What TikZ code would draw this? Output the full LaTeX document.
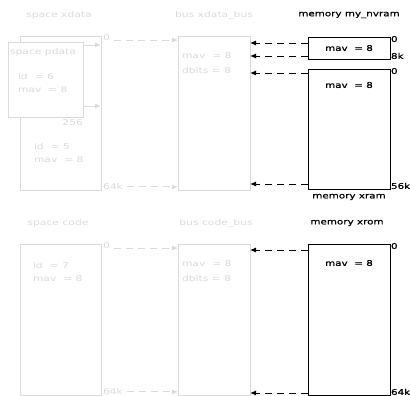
\documentclass[tikz,border=0pt]{standalone}
\usepackage{fontspec}
\setmainfont[FakeStretch=1.35]{DejaVu Sans}
\newfontfamily\heavyfont[FakeStretch=1.3,FakeBold=0.7]{DejaVu Sans}
\usetikzlibrary{arrows,arrows.meta}
\definecolor{faint}{RGB}{218,218,218}

\begin{document}
\begin{tikzpicture}[x=1bp,y=-1bp,>={Latex[length=6bp,width=5bp]},font=\fontsize{8}{12.5}\selectfont,
  every node/.style={inner sep=0pt,outer sep=0pt},
  sbox/.style={draw=faint,line width=1bp,anchor=north west,fill=white},
  mbox/.style={draw=black,line width=1bp,anchor=north west},
  stext/.style={text=faint,align=left},
  mtext/.style={text=black,font=\fontsize{8}{12}\heavyfont},
  sarrow/.style={->,draw=faint,line width=1bp,dash pattern=on 7bp off 5bp},
  marrow/.style={->,draw=black,line width=1bp,dash pattern=on 7bp off 5bp}]
  \useasboundingbox (0,0) rectangle (410,396);
  % upper half
  \node[sbox,minimum width=81bp,minimum height=154bp] (xdata) at (20,36) {};
  \node[sbox,minimum width=75bp,minimum height=75bp] (pdata) at (8,42) {};
  \node[sbox,minimum width=72bp,minimum height=154bp] (xdatabus) at (178,36) {};
  \node[mbox,minimum width=82bp,minimum height=22bp] (nvram) at (308,37) {};
  \node[mbox,minimum width=82bp,minimum height=120bp] (xram) at (308,69) {};
  \node[stext] (xdatat) at (59,15) {space xdata};
  \node[stext] (xdatabust) at (214,15) {bus xdata\_bus};
  \node[mtext] (nvramt) at (349,15) {memory my\_nvram};
  \node[mtext] (xramt) at (349,197) {memory xram};
  \node[stext,anchor=west] (pdatat) at (10,52) {space pdata};
  \node[stext,anchor=west] (pdatap) at (18,83) {id \ = 6\\mav \ = 8};
  \node[stext,anchor=north east] (p256) at (pdata.south east |- 0,120) {256};
  \node[stext,anchor=west] (xdatap) at (34,153) {id \ = 5\\mav \ = 8};
  \node[stext,anchor=west] (xdatabusp) at (182,63) {mav \ = 8\\[3bp]dbits = 8};
  \node[mtext] (nvramp) at (349,48) {mav \ = 8};
  \node[mtext] (xramp) at (349,85) {mav \ = 8};
  \node[mtext,anchor=north west] (n0) at ([xshift=1bp,yshift=1bp]nvram.north east) {0};
  \node[mtext,anchor=south west] (n8) at ([xshift=1bp]nvram.south east) {8k};
  \node[mtext,anchor=north west] (r0) at ([xshift=1bp,yshift=1bp]xram.north east) {0};
  \node[mtext,anchor=south west] (r56) at ([xshift=1bp]xram.south east) {56k};
  \node[stext,anchor=north west] (x0) at ([xshift=2bp,yshift=1bp]xdata.north east) {0};
  \node[stext,anchor=south west] (x64) at ([xshift=2bp]xdata.south east) {64k};
  \draw[->,draw=faint,line width=1bp] ([yshift=-3bp]pdata.north east) -- ([yshift=-3bp]pdata.north east -| xdata.east);
  \draw[->,draw=faint,line width=1bp] ([yshift=11bp]pdata.south east) -- ([yshift=11bp]pdata.south east -| xdata.east);
  \draw[sarrow] ([xshift=4bp,yshift=-2bp]x0.east) -- ([yshift=-2bp]x0.east -| xdatabus.west);
  \draw[sarrow] ([xshift=4bp]x64.east) -- (x64.east -| xdatabus.west);
  \coordinate (na) at ([yshift=-6bp]nvram.north west);
  \coordinate (nb) at ([yshift=3bp]nvram.south west);
  \coordinate (ra) at ([yshift=-4bp]xram.north west);
  \coordinate (rb) at ([yshift=5bp]xram.south west);
  \draw[marrow] (na) -- (na -| xdatabus.east);
  \draw[marrow] (nb) -- (nb -| xdatabus.east);
  \draw[marrow] (ra) -- (ra -| xdatabus.east);
  \draw[marrow] (rb) -- (rb -| xdatabus.east);
  % lower half
  \node[sbox,minimum width=81bp,minimum height=151bp] (code) at (20,244) {};
  \node[sbox,minimum width=72bp,minimum height=151bp] (codebus) at (178,244) {};
  \node[mbox,minimum width=82bp,minimum height=151bp] (xrom) at (308,244) {};
  \node[stext] (codet) at (58,223) {space code};
  \node[stext] (codebust) at (216,223) {bus code\_bus};
  \node[mtext] (xromt) at (347,223) {memory xrom};
  \node[stext,anchor=west] (codep) at (33,272) {id \ = 7\\mav \ = 8};
  \node[stext,anchor=west] (codebusp) at (182,271) {mav \ = 8\\[3bp]dbits = 8};
  \node[mtext] (xromp) at (349,263) {mav \ = 8};
  \node[stext,anchor=north west] (c0) at ([xshift=2bp,yshift=1bp]code.north east) {0};
  \node[stext,anchor=south west] (c64) at ([xshift=2bp]code.south east) {64k};
  \node[mtext,anchor=north west] (o0) at ([xshift=1bp,yshift=1bp]xrom.north east) {0};
  \node[mtext,anchor=south west] (o64) at ([xshift=1bp]xrom.south east) {64k};
  \draw[sarrow] ([xshift=4bp,yshift=-2bp]c0.east) -- ([yshift=-2bp]c0.east -| codebus.west);
  \draw[sarrow] ([xshift=4bp]c64.east) -- (c64.east -| codebus.west);
  \coordinate (oa) at ([yshift=-6bp]xrom.north west);
  \coordinate (ob) at ([yshift=2bp]xrom.south west);
  \draw[marrow] (oa) -- (oa -| codebus.east);
  \draw[marrow] (ob) -- (ob -| codebus.east);
\end{tikzpicture}
\end{document}
